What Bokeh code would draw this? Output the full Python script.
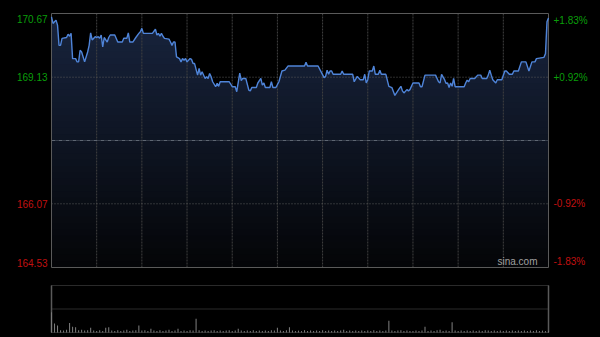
import numpy as np
from bokeh.plotting import figure
from bokeh.models import Range1d, Label
from bokeh.embed import file_html
from bokeh.resources import INLINE

# ---- data (HK session: 330 trading minutes, 9:30-12:00, 13:00-16:00) ----
prev_close = 167.60
price_ticks = [170.67, 169.13, 166.07, 164.53]
pct_labels = ["+1.83%", "+0.92%", "-0.92%", "-1.83%"]
grid_minutes = [30, 60, 90, 120, 150, 180, 210, 240, 270, 300]

minutes = [0, 1, 2, 3, 4, 5, 6, 7, 10, 11, 12, 13, 14, 16, 17, 18, 19, 20, 22, 24,
           25, 26, 27, 29, 30, 31, 32, 33, 34, 35, 37, 38, 39, 42, 44, 47, 48, 50, 51, 52,
           54, 56, 58, 59, 60, 61, 63, 65, 67, 69, 70, 71, 72, 73, 74, 75, 78, 79, 80, 81,
           82, 83, 85, 86, 87, 88, 89, 90, 92, 93, 94, 95, 97, 98, 99, 100, 102, 103, 104, 105,
           106, 107, 109, 110, 111, 112, 118, 120, 122, 123, 125, 126, 127, 129, 131, 132, 133, 136, 137, 139,
           140, 141, 142, 145, 146, 147, 149, 151, 153, 155, 157, 165, 168, 169, 170, 177, 181, 182, 183, 184,
           185, 186, 187, 192, 193, 194, 200, 201, 203, 205, 207, 208, 209, 210, 211, 213, 214, 215, 217, 218,
           219, 222, 224, 226, 228, 231, 232, 233, 234, 236, 237, 238, 240, 244, 245, 246, 248, 255, 257, 258,
           259, 261, 262, 263, 264, 265, 266, 267, 268, 273, 274, 275, 276, 277, 278, 281, 283, 285, 286, 289,
           290, 291, 292, 293, 295, 296, 299, 301, 302, 304, 306, 307, 310, 312, 315, 317, 319, 321, 322, 327,
           328, 329, 330]
prices = [170.59, 170.43, 170.47, 170.51, 170.39, 169.90, 169.90, 170.07, 170.09, 170.17, 170.12, 170.19, 169.58, 169.58, 169.50, 169.50, 169.78, 169.74, 169.50, 169.74,
          169.90, 170.20, 170.03, 170.11, 170.09, 170.11, 170.07, 170.15, 169.86, 170.09, 169.98, 170.09, 170.15, 170.15, 169.98, 169.98, 170.07, 170.07, 170.20, 169.98,
          169.98, 170.09, 170.19, 170.23, 170.31, 170.19, 170.19, 170.19, 170.19, 170.29, 170.15, 170.19, 170.12, 170.19, 170.12, 170.07, 170.05, 169.98, 169.90, 169.98,
          169.98, 169.62, 169.58, 169.50, 169.58, 169.54, 169.58, 169.50, 169.58, 169.56, 169.46, 169.46, 169.18, 169.34, 169.18, 169.26, 169.10, 169.14, 169.10, 169.22,
          169.14, 169.02, 168.90, 168.98, 168.91, 169.02, 169.02, 168.90, 168.90, 168.78, 169.23, 169.05, 169.10, 169.10, 168.82, 168.80, 168.88, 168.88, 168.99, 169.10,
          168.94, 168.99, 168.88, 168.88, 169.02, 168.88, 168.88, 169.02, 169.28, 169.30, 169.40, 169.40, 169.40, 169.49, 169.40, 169.40, 169.12, 169.15, 169.30, 169.20,
          169.28, 169.28, 169.20, 169.20, 169.28, 169.20, 169.20, 169.02, 169.15, 169.07, 169.07, 169.20, 168.99, 169.07, 169.28, 169.28, 169.40, 169.20, 169.20, 169.30,
          169.20, 169.20, 168.91, 168.88, 168.69, 168.86, 168.91, 168.80, 168.75, 168.83, 168.80, 168.83, 168.99, 168.99, 168.90, 168.90, 169.18, 169.18, 169.02, 168.99,
          169.20, 169.07, 168.98, 168.99, 168.88, 168.99, 168.91, 169.10, 168.90, 168.90, 168.90, 168.99, 169.06, 169.02, 169.10, 169.10, 169.18, 169.18, 169.10, 169.10,
          169.18, 169.30, 169.18, 169.07, 168.99, 169.07, 169.07, 169.28, 169.28, 169.20, 169.20, 169.28, 169.28, 169.50, 169.50, 169.28, 169.50, 169.50, 169.58, 169.61,
          169.70, 170.47, 170.56]

vol_minutes = list(range(0, 331, 2))
volumes = [0.43, 0.19, 0.15, 0.05, 0.04, 0.06, 0.20, 0.12, 0.11, 0.05, 0.06, 0.04, 0.05, 0.10, 0.04, 0.03, 0.05, 0.03, 0.10, 0.11,
           0.04, 0.03, 0.05, 0.03, 0.04, 0.06, 0.03, 0.04, 0.05, 0.15, 0.04, 0.05, 0.03, 0.08, 0.04, 0.03, 0.05, 0.03, 0.04, 0.06,
           0.03, 0.04, 0.08, 0.03, 0.04, 0.03, 0.05, 0.04, 0.29, 0.05, 0.03, 0.04, 0.03, 0.04, 0.05, 0.03, 0.04, 0.03, 0.04, 0.05,
           0.03, 0.04, 0.08, 0.04, 0.03, 0.04, 0.03, 0.05, 0.03, 0.04, 0.03, 0.04, 0.03, 0.05, 0.04, 0.10, 0.04, 0.03, 0.05, 0.11,
           0.04, 0.03, 0.04, 0.03, 0.05, 0.03, 0.04, 0.03, 0.04, 0.03, 0.05, 0.03, 0.04, 0.03, 0.04, 0.03, 0.04, 0.06, 0.03, 0.04,
           0.03, 0.04, 0.03, 0.04, 0.03, 0.04, 0.03, 0.05, 0.03, 0.04, 0.03, 0.04, 0.25, 0.04, 0.03, 0.04, 0.05, 0.03, 0.04, 0.03,
           0.03, 0.04, 0.03, 0.04, 0.12, 0.03, 0.04, 0.03, 0.05, 0.06, 0.03, 0.04, 0.03, 0.22, 0.04, 0.03, 0.04, 0.03, 0.04, 0.03,
           0.04, 0.03, 0.04, 0.03, 0.05, 0.04, 0.03, 0.04, 0.03, 0.04, 0.03, 0.04, 0.03, 0.04, 0.03, 0.04, 0.03, 0.04, 0.03, 0.04,
           0.03, 0.05, 0.03, 0.04, 0.03, 0.04]
vol_max = 1.0

# ---- layout geometry (pixels of the 600x337 canvas) ----
W, H = 600, 337
FX0, FX1 = 51, 548          # price/volume frame left/right
PY0, PY1 = 13, 267          # price frame top/bottom
VY0, VY1 = 285, 332         # volume frame top/bottom

FONT = "Liberation Sans"
GREEN = "#0a9e0a"
RED = "#c01010"
x_lo, x_hi = 0, 330
y_lo, y_hi = min(price_ticks), max(price_ticks)

# map the whole canvas so that labels outside the frames are not clipped
xs = (x_hi - x_lo) / (FX1 - FX0)
ys = (y_hi - y_lo) / (PY1 - PY0)
vs = vol_max / (VY1 - VY0)
xr = Range1d(x_lo - FX0 * xs, x_hi + (W - FX1) * xs)
yr = Range1d(y_hi - H * ys + (PY0 * ys), y_hi + PY0 * ys)
vr = Range1d(-(H - VY1) * vs, vol_max + VY0 * vs)

p = figure(width=W, height=H, output_backend="svg", toolbar_location=None,
           x_axis_location=None, y_axis_location=None, x_range=xr, y_range=yr,
           min_border=0)
p.extra_y_ranges = {"vol": vr}
p.background_fill_color = "black"
p.border_fill_color = "black"
p.outline_line_color = None
p.grid.visible = False

mx = np.array(minutes, dtype=float)
pr = np.array(prices, dtype=float)

# gradient-like fill under the line: overlapping bands, top colour first
nb = 40
edges = np.linspace(y_lo, y_hi, nb + 1)
top_rgb = np.array([24, 36, 62])
bot_rgb = np.array([4, 5, 7])
for i in range(nb - 1, -1, -1):
    hi = edges[i + 1]
    t = ((edges[i] + hi) / 2 - y_lo) / (y_hi - y_lo)
    c = bot_rgb + (top_rgb - bot_rgb) * t
    col = "#%02x%02x%02x" % tuple(int(round(v)) for v in c)
    p.varea(x=mx, y1=np.full_like(pr, y_lo), y2=np.minimum(pr, hi), fill_color=col)

# price grid
p.segment(x0=grid_minutes, x1=grid_minutes, y0=[y_lo] * len(grid_minutes),
          y1=[y_hi] * len(grid_minutes), line_color="#404040", line_dash="2 1", line_width=1)
mid_ticks = [price_ticks[1], price_ticks[2]]
p.segment(x0=[x_lo] * 2, x1=[x_hi] * 2, y0=mid_ticks, y1=mid_ticks,
          line_color="#5a5a5a", line_dash="1 2", line_width=1)
p.segment(x0=[x_lo], x1=[x_hi], y0=[prev_close], y1=[prev_close],
          line_color="#5e6672", line_dash="4 1 1 1", line_width=1)

# price frame
p.quad(left=[x_lo], right=[x_hi], bottom=[y_lo], top=[y_hi], fill_color=None,
       line_color="#5a5a5a", line_width=1)

p.line(mx, pr, line_color="#4f84d8", line_width=1.4)

# labels
baselines = ["top", "middle", "middle", "bottom"]
yoffs = [-1, 0, 0, 1]
for v, pct, bl, yo in zip(price_ticks, pct_labels, baselines, yoffs):
    c = GREEN if v > prev_close else RED
    p.add_layout(Label(x=x_lo, y=v, text="%.2f" % v, x_offset=-4, y_offset=yo,
                       text_align="right", text_baseline=bl, text_color=c,
                       text_font=FONT, text_font_size="10px"))
    p.add_layout(Label(x=x_hi, y=v, text=pct, x_offset=5, y_offset=yo,
                       text_align="left", text_baseline=bl, text_color=c,
                       text_font=FONT, text_font_size="10px"))
p.add_layout(Label(x=x_hi, y=y_lo, text="sina.com", x_offset=-11, y_offset=1,
                   text_align="right", text_baseline="bottom", text_color="#a0a0a0",
                   text_font=FONT, text_font_size="10px"))

# ---- volume panel ----
vlev = [0, vol_max / 2, vol_max]
p.segment(x0=[x_lo] * 3, x1=[x_hi] * 3, y0=vlev, y1=vlev, y_range_name="vol",
          line_color="#555555", line_dash="1 1", line_width=1)
p.segment(x0=[x_lo, x_hi], x1=[x_lo, x_hi], y0=[0, 0], y1=[vol_max, vol_max],
          y_range_name="vol", line_color="#5a5a5a", line_width=1.5)
p.vbar(x=vol_minutes, top=volumes, bottom=0, width=0.7, y_range_name="vol",
       fill_color="#7a7a7a", line_color=None)

html = file_html(p, INLINE)
html = html.replace("</head>", "<style>html,body{margin:0;padding:0;background:#000000;}</style></head>", 1)
open("out.html", "w").write(html)
